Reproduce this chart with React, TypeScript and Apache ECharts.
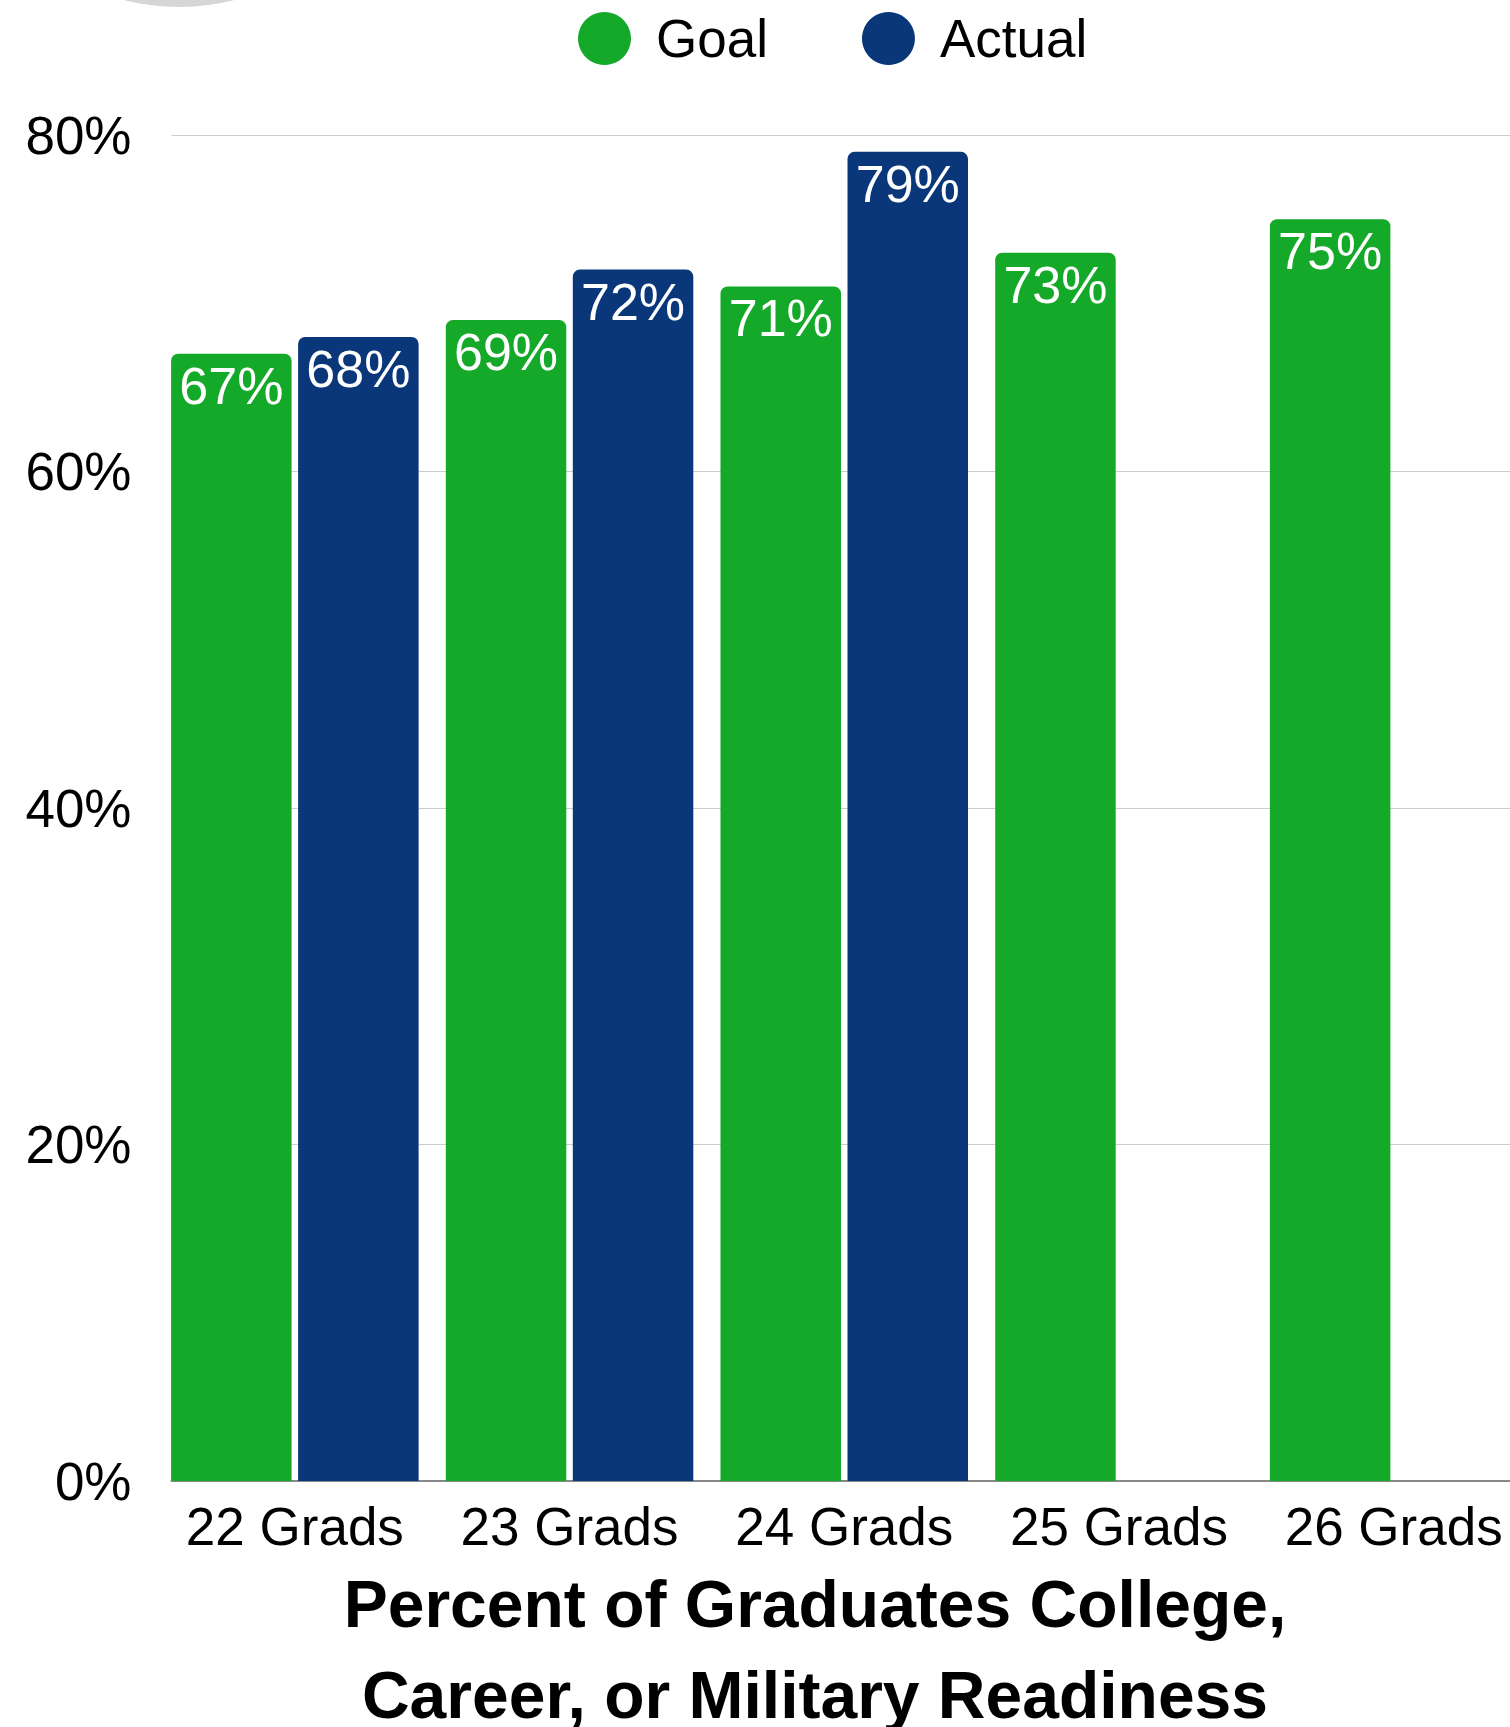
import React, { useEffect, useRef } from "react";
import * as echarts from "echarts";

const categories = ["22 Grads", "23 Grads", "24 Grads", "25 Grads", "26 Grads"];
const goalValues = [67, 69, 71, 73, 75];
const actualValues: (number | null)[] = [68, 72, 79, null, null];
const seriesNames = ["Goal", "Actual"];
const titleLines = ["Percent of Graduates College,", "Career, or Military Readiness"];

const GREEN = "#15a92a";
const BLUE = "#0a377a";
const FONT = "Liberation Sans, Arial, sans-serif";

export default function App() {
  const ref = useRef<HTMLDivElement>(null);
  useEffect(() => {
    if (!ref.current) return;
    const chart = echarts.init(ref.current, undefined, { renderer: "svg" });
    const label = {
      show: true,
      position: "insideTop" as const,
      distance: 6,
      color: "#ffffff",
      fontSize: 52,
      fontFamily: FONT,
      formatter: "{c}%",
    };
    chart.setOption({
      animation: false,
      backgroundColor: "#ffffff",
      textStyle: { fontFamily: FONT },
      legend: {
        data: seriesNames,
        icon: "circle",
        itemWidth: 53,
        itemHeight: 53,
        itemGap: 94,
        left: 573,
        top: 7,
        textStyle: { fontSize: 53, color: "#000", fontFamily: FONT, padding: [0, 0, 0, 20] },
      },
      grid: [
        { left: 171.5, right: 0, top: 135, bottom: 246 },
        { left: 157.5, right: 0, top: 135, bottom: 246 },
      ],
      xAxis: [
        {
          type: "category",
          gridIndex: 0,
          data: categories,
          axisLine: { show: true, lineStyle: { color: "#888888", width: 2 } },
          axisTick: { show: false },
          axisLabel: { show: false },
        },
        {
          type: "category",
          gridIndex: 1,
          data: categories,
          axisLine: { show: false },
          axisTick: { show: false },
          axisLabel: { interval: 0, fontSize: 53, color: "#000", margin: 19, fontFamily: FONT },
        },
      ],
      yAxis: [
        {
          type: "value",
          gridIndex: 0,
          min: 0,
          max: 80,
          interval: 20,
          axisLine: { show: false },
          axisTick: { show: false },
          axisLabel: { fontSize: 53, color: "#000", margin: 40, formatter: "{value}%", fontFamily: FONT },
          splitLine: { lineStyle: { color: "#cccccc", width: 1 } },
        },
        {
          type: "value",
          gridIndex: 1,
          min: 0,
          max: 80,
          interval: 20,
          show: false,
          splitLine: { show: false },
        },
      ],
      graphic: [
        {
          type: "circle",
          shape: { cx: 179, cy: -217, r: 224 },
          style: { fill: "#d6d6d6" },
        },
        {
          type: "text",
          x: 815,
          y: 1649,
          style: {
            text: titleLines.join("\n"),
            textAlign: "center",
            textVerticalAlign: "middle",
            font: `bold 66px ${FONT}`,
            lineHeight: 91,
            fill: "#000",
          },
        },
      ],
      series: [
        {
          name: seriesNames[0],
          type: "bar",
          xAxisIndex: 1,
          yAxisIndex: 1,
          data: goalValues,
          barWidth: 120.5,
          barGap: "5.4%",
          itemStyle: { color: GREEN, borderRadius: [7, 7, 0, 0] },
          label,
        },
        {
          name: seriesNames[1],
          type: "bar",
          xAxisIndex: 1,
          yAxisIndex: 1,
          data: actualValues,
          barWidth: 120.5,
          barGap: "5.4%",
          itemStyle: { color: BLUE, borderRadius: [7, 7, 0, 0] },
          label,
        },
      ],
    });
    return () => chart.dispose();
  }, []);
  return (
    <div
      style={{ position: "absolute", left: 0, top: 0, width: 1510, height: 1727, overflow: "hidden" }}
    >
      <div ref={ref} style={{ width: 1531, height: 1727 }} />
    </div>
  );
}
